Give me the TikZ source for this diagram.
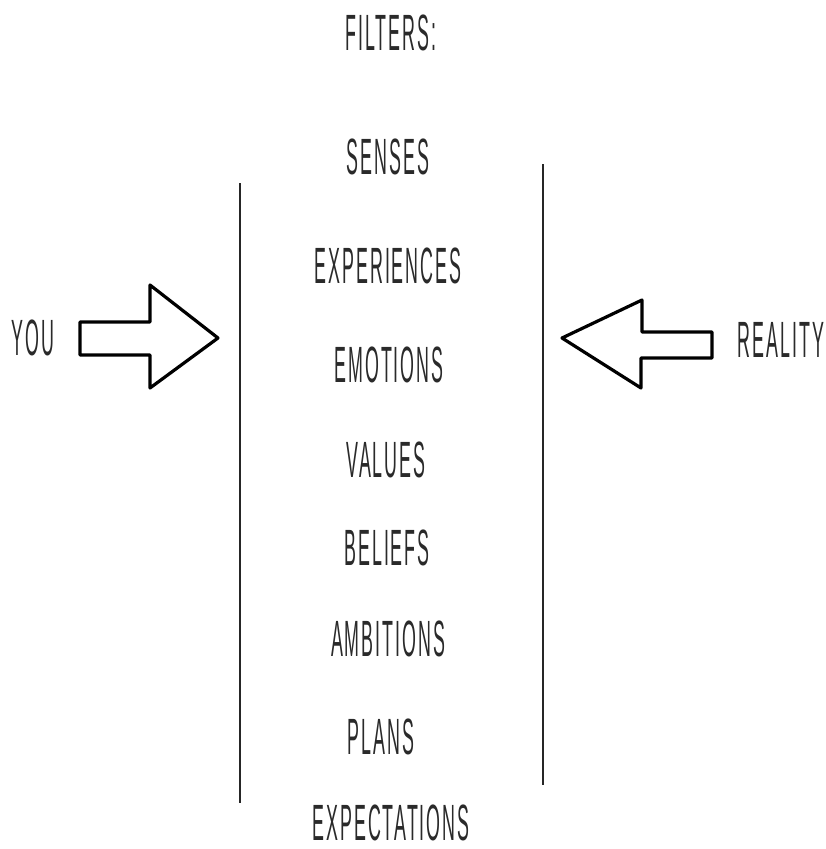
\documentclass[tikz,border=0pt]{standalone}
\usepackage{fontspec}
\setmainfont{Liberation Sans}
\newfontfamily\spaced[LetterSpace=11]{Liberation Sans}
\definecolor{inkgray}{HTML}{2A2A2A}
\begin{document}
\begin{tikzpicture}[x=1pt,y=-1pt,
  lbl/.style={inner sep=0pt, outer sep=0pt, text=inkgray, xscale=0.35,
    font=\spaced\fontsize{51}{60}\selectfont},
  arrowshape/.style={draw=black, line width=3.2pt, line join=round, fill=white},
  wall/.style={draw=black!85, line width=2.4pt}]
\useasboundingbox (0,0) rectangle (826,849);
\node[lbl] (filters) at (391,33) {FILTERS:};
\node[lbl] (senses) at (388,157) {SENSES};
\node[lbl] (experiences) at (388,266) {EXPERIENCES};
\node[lbl] (emotions) at (389,365) {EMOTIONS};
\node[lbl] (values) at (386,460) {VALUES};
\node[lbl] (beliefs) at (387,548) {BELIEFS};
\node[lbl] (ambitions) at (388,639) {AMBITIONS};
\node[lbl] (plans) at (381,737) {PLANS};
\node[lbl] (expectations) at (391,823) {EXPECTATIONS};
\node[lbl] (you) at (33,338) {YOU};
\node[lbl] (reality) at (781,340) {REALITY};
% walls
\coordinate (lwt) at (240,183);
\coordinate (lwb) at (240,803);
\coordinate (rwt) at (543,164);
\coordinate (rwb) at (543,785);
\draw[wall] (lwt) -- (lwb);
\draw[wall] (rwt) -- (rwb);
% left arrow
\draw[arrowshape] (80,322) -- (150,322) -- (150,285) -- (218,338) -- (150,388) -- (150,355) -- (80,355) -- cycle;
% right arrow
\draw[arrowshape] (712,332) -- (642,332) -- (642,300) -- (562,338) -- (641,388) -- (641,358) -- (712,358) -- cycle;
\end{tikzpicture}
\end{document}
